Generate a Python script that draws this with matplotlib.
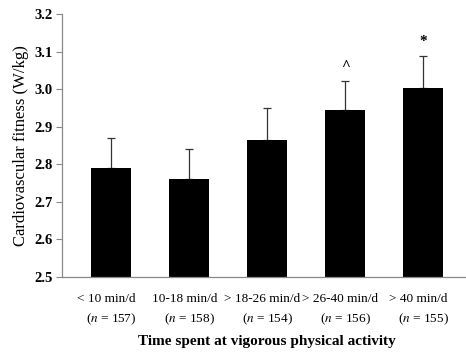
import matplotlib.pyplot as plt
import numpy as np

plt.rcParams['font.family'] = ['Liberation Serif', 'DejaVu Serif']
plt.rcParams['mathtext.fontset'] = 'stix'

# Data
groups = ['< 10 min/d', '10-18 min/d', '> 18-26 min/d', '> 26-40 min/d', '> 40 min/d']
counts = [157, 158, 154, 156, 155]
fitness = [2.79, 2.76, 2.866, 2.945, 3.004]
sem = [0.08, 0.08, 0.083, 0.078, 0.085]
marks = ['', '', '', '^', '*']

fig = plt.figure(figsize=(4.66, 3.54), dpi=100)
ax = fig.add_axes([0.133, 0.2175, 0.867, 0.7425])

x = np.arange(len(groups))
ax.bar(x, fitness, width=0.51, color='black', zorder=2)
ax.errorbar(x, fitness, yerr=[np.zeros(len(sem)), sem], fmt='none',
            ecolor='#333333', elinewidth=0.9, capsize=3, capthick=0.9, zorder=1)

# significance marks above the error bars
for xi, y, e, m in zip(x, fitness, sem, marks):
    if m:
        ax.text(xi, y + e + 0.02, m, ha='center', va='bottom',
                fontsize=11, fontweight='bold')

ax.set_ylim(2.5, 3.2)
ax.set_xlim(-0.63, 4.55)
ax.set_yticks(np.arange(2.5, 3.21, 0.1))
ax.set_yticklabels([f'{v:.1f}' for v in np.arange(2.5, 3.21, 0.1)],
                   fontweight='bold', fontsize=10.5)
ax.tick_params(axis='y', length=4, width=0.8, color='#888888', pad=3)
ax.tick_params(axis='x', length=0)

ax.set_xticks(x)
ax.set_xticklabels([])
for xi, g, n in zip(x, groups, counts):
    ax.text(xi - 0.06, -0.06, g, transform=ax.get_xaxis_transform(),
            ha='center', va='top', fontsize=9.5)
    ax.text(xi, -0.13, f'($n$ = {n})', transform=ax.get_xaxis_transform(),
            ha='center', va='top', fontsize=9.5)

for s in ['top', 'right']:
    ax.spines[s].set_visible(False)
for s in ['left', 'bottom']:
    ax.spines[s].set_color('#888888')
    ax.spines[s].set_linewidth(0.9)

fig.text(0.045, 0.59, 'Cardiovascular fitness (W/kg)', rotation=90,
         ha='center', va='center', fontsize=12)
fig.text(0.573, 0.035, 'Time spent at vigorous physical activity',
         ha='center', va='center', fontsize=11, fontweight='bold')

fig.savefig('out.png', dpi=100)
